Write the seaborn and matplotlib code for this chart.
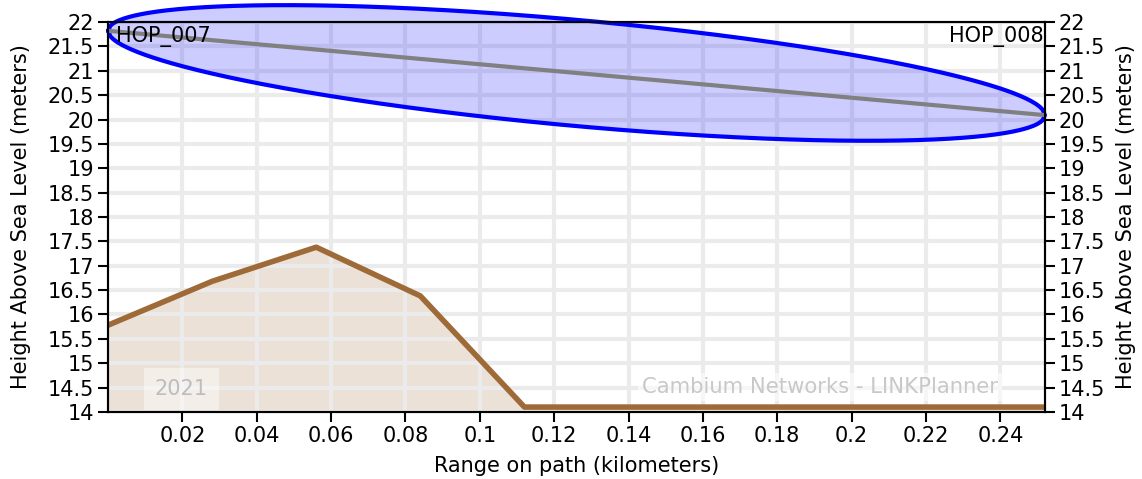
import numpy as np
import pandas as pd
import matplotlib
matplotlib.use("Agg")
import matplotlib.pyplot as plt
import seaborn as sns
from matplotlib.ticker import MultipleLocator, FuncFormatter

# Terrain profile along the path
range_km = [0.0, 0.028, 0.056, 0.084, 0.112, 0.252]
terrain_m = [15.78, 16.68, 17.38, 16.38, 14.1, 14.1]

# Link end points (line of sight)
hop_range_km = [0.0, 0.252]
hop_height_m = [21.82, 20.09]
hop_names = ["HOP_007", "HOP_008"]

# Fresnel zone radius at the middle of the path (meters)
fresnel_mid_radius = 1.09

x_ticks = [0.02, 0.04, 0.06, 0.08, 0.1, 0.12, 0.14, 0.16, 0.18, 0.2, 0.22, 0.24]
y_min, y_max = 14, 22

sns.set_style("white")
plt.rcParams["font.family"] = ["DejaVu Sans"]
plt.rcParams["text.color"] = "black"
plt.rcParams["axes.labelcolor"] = "black"
plt.rcParams["xtick.color"] = "black"
plt.rcParams["ytick.color"] = "black"

fig, ax = plt.subplots(figsize=(11.42, 4.79), dpi=100)
fig.subplots_adjust(left=0.0946, right=0.915, top=0.954, bottom=0.14)

terrain = pd.DataFrame({"range": range_km, "height": terrain_m})
los = pd.DataFrame({"range": hop_range_km, "height": hop_height_m})

# terrain
ax.fill_between(terrain["range"], y_min, terrain["height"], color="#9e6b38",
                alpha=0.2, linewidth=0, zorder=1)
sns.lineplot(data=terrain, x="range", y="height", color="#9e6b38", linewidth=4,
             ax=ax, zorder=2)

# fresnel zone
t = np.linspace(0, 1, 400)
x_f = hop_range_km[0] + (hop_range_km[1] - hop_range_km[0]) * t
y_los = hop_height_m[0] + (hop_height_m[1] - hop_height_m[0]) * t
r = 2 * fresnel_mid_radius * np.sqrt(t * (1 - t))
xs = np.concatenate([x_f, x_f[::-1]])
ys = np.concatenate([y_los + r, (y_los - r)[::-1]])
ax.fill(xs, ys, color="#0000ff", alpha=0.2, linewidth=0, zorder=3, clip_on=False)
ax.plot(xs, ys, color="#0000ff", linewidth=3, zorder=4, clip_on=False)

# line of sight
sns.lineplot(data=los, x="range", y="height", color="#808080", linewidth=3,
             ax=ax, zorder=5)

ax.text(0.009, 0.99, hop_names[0], transform=ax.transAxes, ha="left", va="top",
        fontsize=15, color="black", zorder=6)
ax.text(0.9985, 0.99, hop_names[1], transform=ax.transAxes, ha="right", va="top",
        fontsize=15, color="black", zorder=6)

# watermarks
box = dict(facecolor="white", alpha=0.45, edgecolor="none", pad=8)
ax.text(0.078, 0.06, "2021", transform=ax.transAxes, ha="center", va="center",
        fontsize=15, color="#bdbdbd", bbox=box, zorder=6)
ax.text(0.76, 0.064, "Cambium Networks - LINKPlanner", transform=ax.transAxes,
        ha="center", va="center", fontsize=15.2, color="#c8c8c8",
        bbox=dict(facecolor="white", alpha=0.6, edgecolor="none", pad=3), zorder=6)

ax.set_xlim(0, 0.252)
ax.set_ylim(y_min, y_max)
ax.set_xticks(x_ticks)
ax.xaxis.set_major_formatter(FuncFormatter(lambda v, p: f"{v:g}"))
ax.yaxis.set_major_locator(MultipleLocator(0.5))
ax.yaxis.set_major_formatter(FuncFormatter(lambda v, p: f"{v:g}"))

ax.set_axisbelow("line")
ax.grid(True, color="#ebebeb", linewidth=3, zorder=1.5)

ax.set_xlabel("Range on path (kilometers)", fontsize=15, labelpad=7)
ax.set_ylabel("Height Above Sea Level (meters)", fontsize=15, labelpad=12)
ax.tick_params(axis="both", labelsize=15, length=7, width=1.5, color="black",
               labelcolor="black", direction="out", pad=3, bottom=True, left=True)

ax2 = ax.twinx()
ax2.set_ylim(y_min, y_max)
ax2.yaxis.set_major_locator(MultipleLocator(0.5))
ax2.yaxis.set_major_formatter(FuncFormatter(lambda v, p: f"{v:g}"))
ax2.set_ylabel("Height Above Sea Level (meters)", fontsize=15, labelpad=8)
ax2.tick_params(axis="y", labelsize=15, length=7, width=1.5, color="black",
                labelcolor="black", direction="out", pad=3, right=True)
ax2.grid(False)

for a in (ax, ax2):
    for s in a.spines.values():
        s.set_color("black")
        s.set_linewidth(1.5)

fig.savefig("out.png", dpi=100)
